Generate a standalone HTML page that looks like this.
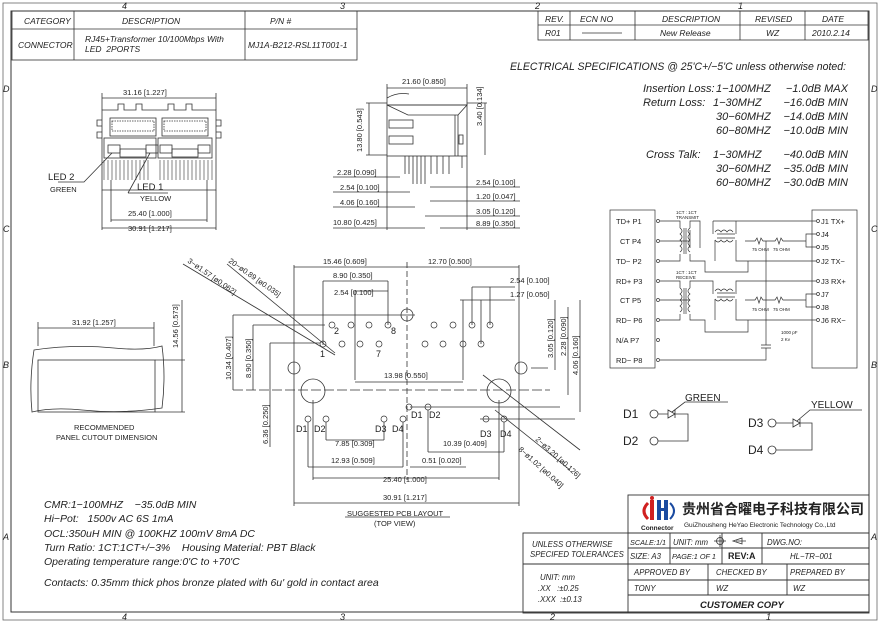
<!DOCTYPE html>
<html><head><meta charset="utf-8"><style>
html,body{margin:0;padding:0;background:#fff;}
svg{display:block;}
text{font-family:"Liberation Sans","Noto Sans CJK SC",sans-serif;fill:#222;white-space:pre;}
.i{font-style:italic;}
</style></head><body>
<svg width="880" height="623" viewBox="0 0 880 623" xmlns="http://www.w3.org/2000/svg" xml:space="preserve" stroke="#333" fill="none" stroke-width="0.8">
<rect x="3" y="3" width="874" height="617" stroke="#666"/>
<rect x="11" y="11" width="858" height="601" stroke-width="1"/>
<g stroke="none" font-size="9" fill="#222">
<text x="122" y="9" class="i">4</text><text x="340" y="9" class="i">3</text><text x="535" y="9" class="i">2</text><text x="738" y="9" class="i">1</text>
<text x="122" y="620" class="i">4</text><text x="340" y="620" class="i">3</text><text x="550" y="620" class="i">2</text><text x="766" y="620" class="i">1</text>
<text x="3" y="92" class="i">D</text><text x="3" y="232" class="i">C</text><text x="3" y="368" class="i">B</text><text x="3" y="540" class="i">A</text>
<text x="871" y="92" class="i">D</text><text x="871" y="232" class="i">C</text><text x="871" y="368" class="i">B</text><text x="871" y="540" class="i">A</text>
</g>
<rect x="12" y="11" width="345" height="49"/>
<line x1="12" y1="29" x2="357" y2="29"/><line x1="74" y1="11" x2="74" y2="60"/><line x1="245" y1="11" x2="245" y2="60"/>
<g stroke="none" font-size="8.5">
<text x="24" y="24" class="i">CATEGORY</text><text x="122" y="24" class="i">DESCRIPTION</text><text x="270" y="24" class="i">P/N #</text>
<text x="18" y="48" class="i">CONNECTOR</text><text x="85" y="42" class="i">RJ45+Transformer 10/100Mbps With</text><text x="85" y="52" class="i">LED  2PORTS</text>
<text x="248" y="48" class="i">MJ1A-B212-RSL11T001-1</text>
</g>
<rect x="538" y="11" width="330" height="29"/>
<line x1="538" y1="25" x2="868" y2="25"/>
<line x1="570" y1="11" x2="570" y2="40"/><line x1="635" y1="11" x2="635" y2="40"/><line x1="740" y1="11" x2="740" y2="40"/><line x1="805" y1="11" x2="805" y2="40"/>
<g stroke="none" font-size="8.5">
<text x="545" y="22" class="i">REV.</text><text x="580" y="22" class="i">ECN NO</text><text x="662" y="22" class="i">DESCRIPTION</text><text x="755" y="22" class="i">REVISED</text><text x="822" y="22" class="i">DATE</text>
<text x="545" y="36" class="i">R01</text><text x="660" y="36" class="i">New Release</text><text x="766" y="36" class="i">WZ</text><text x="812" y="36" class="i">2010.2.14</text>
</g>
<line x1="582" y1="33" x2="622" y2="33"/>
<g stroke="none" font-size="11">
<text x="510" y="70" class="i" textLength="336" lengthAdjust="spacingAndGlyphs">ELECTRICAL SPECIFICATIONS @ 25'C+/−5'C unless otherwise noted:</text>
<text x="643" y="92" class="i">Insertion Loss:</text><text x="716" y="92" class="i">1−100MHZ</text><text x="848" y="92" class="i" text-anchor="end">−1.0dB MAX</text>
<text x="643" y="106" class="i">Return Loss:</text><text x="713" y="106" class="i">1−30MHZ</text><text x="848" y="106" class="i" text-anchor="end">−16.0dB MIN</text>
<text x="716" y="120" class="i">30−60MHZ</text><text x="848" y="120" class="i" text-anchor="end">−14.0dB MIN</text>
<text x="716" y="134" class="i">60−80MHZ</text><text x="848" y="134" class="i" text-anchor="end">−10.0dB MIN</text>
<text x="646" y="158" class="i">Cross Talk:</text><text x="713" y="158" class="i">1−30MHZ</text><text x="848" y="158" class="i" text-anchor="end">−40.0dB MIN</text>
<text x="716" y="172" class="i">30−60MHZ</text><text x="848" y="172" class="i" text-anchor="end">−35.0dB MIN</text>
<text x="716" y="186" class="i">60−80MHZ</text><text x="848" y="186" class="i" text-anchor="end">−30.0dB MIN</text>
</g>
<g>
<line x1="102" y1="98" x2="216" y2="98"/><line x1="102" y1="93" x2="102" y2="110"/><line x1="216" y1="93" x2="216" y2="110"/>
<path d="M102 110 H118 V104 H124 V110 H136 V104 H142 V110 H168 V104 H174 V110 H186 V104 H192 V110 H216 V190 H102 Z"/>
<path d="M102 120 h-5 v6 h5 M102 132 h-5 v6 h5 M216 120 h5 v6 h-5 M216 132 h5 v6 h-5"/>
<rect x="110" y="118" width="46" height="18"/><rect x="162" y="118" width="46" height="18"/>
<path d="M112 121 h42 v10 h-42z" stroke-dasharray="1.5 1"/><path d="M164 121 h42 v10 h-42z" stroke-dasharray="1.5 1"/>
<rect x="108" y="145" width="12" height="8"/><rect x="146" y="145" width="12" height="8"/>
<rect x="160" y="145" width="12" height="8"/><rect x="198" y="145" width="12" height="8"/>
<rect x="120" y="149" width="26" height="8"/><rect x="172" y="149" width="26" height="8"/>
<rect x="104" y="138" width="52" height="20"/><rect x="158" y="138" width="54" height="20"/>
<path d="M104 160 V180 M108 160V180 M112 160V180 M116 160V180 M120 160V180 M124 160V180 M128 160V180 M132 160V180 M136 160V180 M140 160V180 M144 160V180 M148 160V180 M160 160V180 M164 160V180 M168 160V180 M172 160V180 M176 160V180 M180 160V180 M184 160V180 M188 160V180 M192 160V180 M196 160V180 M200 160V180 M204 160V180 M208 160V180 M212 160V180" stroke-width="0.6"/>
<line x1="102" y1="190" x2="102" y2="230"/><line x1="216" y1="190" x2="216" y2="230"/>
<line x1="111" y1="180" x2="111" y2="222"/><line x1="207" y1="180" x2="207" y2="222"/>
<line x1="111" y1="220" x2="207" y2="220"/><line x1="102" y1="228" x2="216" y2="228"/>
<path d="M58 182 H84 L112 153"/><path d="M128 193 H168 M128 193 L150 153"/>
</g>
<g stroke="none" font-size="7.5">
<text x="123" y="95">31.16 [1.227]</text>
<text x="128" y="216">25.40 [1.000]</text><text x="128" y="231">30.91 [1.217]</text>
<text x="48" y="180" font-size="9.5">LED 2</text><text x="50" y="192">GREEN</text>
<text x="137" y="190" font-size="9.5">LED 1</text><text x="140" y="201">YELLOW</text>
</g>
<g>
<line x1="387" y1="88" x2="467" y2="88"/><line x1="387" y1="84" x2="387" y2="105"/><line x1="467" y1="84" x2="467" y2="105"/>
<path d="M387 105 L467 105 L458 115 L408 115 Z"/>
<path d="M387 98 q10 -6 22 -4"/>
<rect x="387" y="105" width="80" height="51"/>
<line x1="455" y1="115" x2="455" y2="156"/><line x1="458" y1="115" x2="458" y2="156"/>
<rect x="389" y="120" width="24" height="8"/><rect x="389" y="136" width="24" height="8"/>
<rect x="459" y="135" width="4" height="9"/>
<line x1="366" y1="103" x2="387" y2="103"/><line x1="366" y1="155" x2="387" y2="155"/><line x1="369" y1="103" x2="369" y2="155"/>
<line x1="467" y1="103" x2="487" y2="103"/><line x1="485" y1="103" x2="485" y2="155"/>
<path d="M405 156 v18 M409 156 v18 M413 156 v28 M417 156 v28 M421 156 v28 M425 156 v28 M431 156 v18 M437 156 v18 M443 156 v18 M449 156 v18 M462 156 v12"/>
<line x1="333" y1="177" x2="400" y2="177"/><line x1="333" y1="192" x2="410" y2="192"/><line x1="333" y1="207" x2="415" y2="207"/><line x1="333" y1="228" x2="425" y2="228"/>
<line x1="387" y1="156" x2="387" y2="230"/>
<line x1="430" y1="187" x2="520" y2="187"/><line x1="430" y1="201" x2="520" y2="201"/><line x1="425" y1="216" x2="520" y2="216"/><line x1="467" y1="156" x2="467" y2="230"/><line x1="440" y1="228" x2="520" y2="228"/>
</g>
<g stroke="none" font-size="7.5">
<text x="402" y="84">21.60 [0.850]</text>
<text transform="translate(362 152) rotate(-90)">13.80 [0.543]</text>
<text transform="translate(482 126) rotate(-90)">3.40 [0.134]</text>
<text x="337" y="175">2.28 [0.090]</text><text x="340" y="190">2.54 [0.100]</text><text x="340" y="205">4.06 [0.160]</text><text x="333" y="225">10.80 [0.425]</text>
<text x="476" y="185">2.54 [0.100]</text><text x="476" y="199">1.20 [0.047]</text><text x="476" y="214">3.05 [0.120]</text><text x="476" y="226">8.89 [0.350]</text>
</g>
<g>
<line x1="38" y1="328" x2="154" y2="328"/><line x1="38" y1="322" x2="38" y2="346"/><line x1="154" y1="322" x2="154" y2="346"/>
<path d="M34 350 q40 -6 80 -2 q30 3 48 -2 q4 30 0 62 q-40 6 -80 2 q-30 -3 -50 2 q-3 -30 2 -62z"/>
<rect x="38" y="360" width="117" height="52"/>
<line x1="155" y1="360" x2="185" y2="360"/><line x1="155" y1="412" x2="185" y2="412"/><line x1="182" y1="300" x2="182" y2="412"/>
</g>
<g stroke="none" font-size="7.5">
<text x="72" y="325">31.92 [1.257]</text>
<text transform="translate(178 348) rotate(-90)">14.56 [0.573]</text>
<text x="74" y="430">RECOMMENDED</text><text x="56" y="440">PANEL CUTOUT DIMENSION</text>
</g>
<g>
<line x1="294" y1="265" x2="294" y2="506"/><line x1="519" y1="265" x2="519" y2="506"/>
<line x1="294" y1="267" x2="519" y2="267"/><line x1="407" y1="262" x2="407" y2="480" stroke-dasharray="6 3"/>
<line x1="323" y1="281" x2="388" y2="281"/><line x1="355" y1="291" x2="388" y2="291"/>
<line x1="323" y1="281" x2="323" y2="345"/><line x1="388" y1="281" x2="388" y2="325"/><line x1="355" y1="291" x2="355" y2="380"/>
<line x1="472" y1="287" x2="515" y2="287"/><line x1="460" y1="300" x2="515" y2="300"/>
<line x1="472" y1="287" x2="472" y2="325"/><line x1="490" y1="287" x2="490" y2="325"/><line x1="481" y1="300" x2="481" y2="344"/><line x1="463" y1="300" x2="463" y2="380"/>
<line x1="355" y1="382" x2="463" y2="382"/>
<line x1="233" y1="315" x2="415" y2="315"/><line x1="253" y1="325" x2="325" y2="325"/><line x1="270" y1="343" x2="320" y2="343"/>
<line x1="233" y1="315" x2="233" y2="390"/><line x1="253" y1="325" x2="253" y2="390"/><line x1="270" y1="343" x2="270" y2="447"/>
<line x1="233" y1="390" x2="550" y2="390" stroke-dasharray="10 3"/>
<line x1="531" y1="368" x2="548" y2="368"/><line x1="555" y1="300" x2="555" y2="370"/><line x1="568" y1="307" x2="568" y2="395"/><line x1="580" y1="300" x2="580" y2="412"/>
<line x1="410" y1="407" x2="560" y2="407"/><line x1="480" y1="419" x2="575" y2="419"/>
<circle cx="313" cy="391" r="12"/><circle cx="499" cy="391" r="12"/>
<circle cx="407" cy="315" r="6"/><circle cx="294" cy="368" r="6"/><circle cx="521" cy="368" r="6"/>
<g stroke-width="0.7">
<circle cx="332" cy="325" r="3"/><circle cx="351" cy="325" r="3"/><circle cx="369" cy="325" r="3"/><circle cx="388" cy="325" r="3"/>
<circle cx="434" cy="325" r="3"/><circle cx="453" cy="325" r="3"/><circle cx="472" cy="325" r="3"/><circle cx="490" cy="325" r="3"/>
<circle cx="323" cy="344" r="3"/><circle cx="342" cy="344" r="3"/><circle cx="360" cy="344" r="3"/><circle cx="379" cy="344" r="3"/>
<circle cx="425" cy="344" r="3"/><circle cx="443" cy="344" r="3"/><circle cx="463" cy="344" r="3"/><circle cx="481" cy="344" r="3"/>
<circle cx="308" cy="419" r="3"/><circle cx="326" cy="419" r="3"/><circle cx="384" cy="419" r="3"/><circle cx="403" cy="419" r="3"/>
<circle cx="486" cy="419" r="3"/><circle cx="504" cy="419" r="3"/><circle cx="409" cy="407" r="3"/><circle cx="428" cy="407" r="3"/>
</g>
<line x1="308" y1="422" x2="308" y2="467"/><line x1="326" y1="422" x2="326" y2="440"/><line x1="384" y1="422" x2="384" y2="440"/><line x1="403" y1="422" x2="403" y2="467"/>
<line x1="428" y1="410" x2="428" y2="452"/><line x1="504" y1="422" x2="504" y2="452"/>
<line x1="326" y1="440" x2="384" y2="440"/><line x1="428" y1="452" x2="504" y2="452"/>
<line x1="308" y1="467" x2="403" y2="467"/><line x1="410" y1="467" x2="466" y2="467"/>
<line x1="313" y1="400" x2="313" y2="480"/><line x1="499" y1="400" x2="499" y2="480"/>
<line x1="313" y1="478" x2="499" y2="478"/><line x1="294" y1="503" x2="519" y2="503"/>
<line x1="183" y1="264" x2="335" y2="355"/><line x1="227" y1="264" x2="335" y2="353"/>
<line x1="483" y1="375" x2="580" y2="450"/><line x1="495" y1="410" x2="570" y2="470"/>
<line x1="345" y1="517" x2="450" y2="517"/>
</g>
<g stroke="none" font-size="7.5">
<text x="323" y="264">15.46 [0.609]</text><text x="428" y="264">12.70 [0.500]</text>
<text x="333" y="278">8.90 [0.350]</text><text x="334" y="295">2.54 [0.100]</text>
<text x="510" y="283">2.54 [0.100]</text><text x="510" y="297">1.27 [0.050]</text>
<text x="384" y="378">13.98 [0.550]</text>
<text transform="translate(231 380) rotate(-90)">10.34 [0.407]</text>
<text transform="translate(251 378) rotate(-90)">8.90 [0.350]</text>
<text transform="translate(268 444) rotate(-90)">6.36 [0.250]</text>
<text transform="translate(553 358) rotate(-90)">3.05 [0.120]</text>
<text transform="translate(566 356) rotate(-90)">2.28 [0.090]</text>
<text transform="translate(578 375) rotate(-90)">4.06 [0.160]</text>
<text x="335" y="446">7.85 [0.309]</text><text x="331" y="463">12.93 [0.509]</text>
<text x="443" y="446">10.39 [0.409]</text><text x="422" y="463">0.51 [0.020]</text>
<text x="383" y="482">25.40 [1.000]</text><text x="383" y="500">30.91 [1.217]</text>
<text x="347" y="516">SUGGESTED PCB LAYOUT</text><text x="374" y="526">(TOP VIEW)</text>
<text transform="translate(187 262) rotate(35)">3−ø1.57 [ø0.062]</text>
<text transform="translate(228 262) rotate(35)">20−ø0.89 [ø0.035]</text>
<text transform="translate(535 440) rotate(42)">2−ø3.20 [ø0.126]</text>
<text transform="translate(518 450) rotate(42)">8−ø1.02 [ø0.040]</text>
<g font-size="9"><text x="320" y="357">1</text><text x="334" y="334">2</text><text x="376" y="357">7</text><text x="391" y="334">8</text>
<text x="296" y="432">D1</text><text x="314" y="432">D2</text><text x="375" y="432">D3</text><text x="392" y="432">D4</text>
<text x="411" y="418">D1</text><text x="429" y="418">D2</text><text x="480" y="437">D3</text><text x="500" y="437">D4</text></g>
</g>
<g stroke-width="0.7">
<rect x="610" y="210" width="45" height="158"/><rect x="812" y="210" width="45" height="158"/>
<g>
<circle cx="658" cy="221" r="1.5"/><circle cx="658" cy="241" r="1.5"/><circle cx="658" cy="261" r="1.5"/><circle cx="658" cy="281" r="1.5"/>
<circle cx="658" cy="300" r="1.5"/><circle cx="658" cy="320" r="1.5"/><circle cx="658" cy="340" r="1.5"/><circle cx="658" cy="360" r="1.5"/>
<circle cx="818" cy="221" r="1.5"/><circle cx="818" cy="234" r="1.5"/><circle cx="818" cy="247" r="1.5"/><circle cx="818" cy="261" r="1.5"/>
<circle cx="818" cy="281" r="1.5"/><circle cx="818" cy="294" r="1.5"/><circle cx="818" cy="307" r="1.5"/><circle cx="818" cy="320" r="1.5"/>
</g>
<path d="M660 221 H680 V228 M660 241 H690 M660 261 H680 V254 M690 230 V248 M680 228 q4 3 0 6 q4 3 0 6 q4 3 0 6 q4 3 0 6 M684 228 V254 M686 228 V254 M690 228 q-4 3 0 6 q-4 3 0 6 q-4 3 0 6 q-4 3 0 6 M690 228 V221 H700 V240 M690 254 V261 H705 V272 H748 V261"/>
<path d="M700 240 V248 M717 234 H735 M717 238 H735 M715 232 q3 -4 6 0 q3 -4 6 0 q3 -4 6 0 M715 240 q3 4 6 0 q3 4 6 0 q3 4 6 0 M713 221 H816 M713 221 V234 M736 234 V221 M715 240 V261 M736 240 V261 H816 M745 241 H755 l2 -3 l2 6 l2 -6 l2 3 H775 l2 -3 l2 6 l2 -6 l2 3 H806 V234 H816 M806 241 V247 H816 M766 241 V345"/>
<path d="M660 281 H680 V288 M660 300 H690 M660 320 H680 V314 M680 288 q4 3 0 6 q4 3 0 6 q4 3 0 6 q4 3 0 6 M684 288 V314 M686 288 V314 M690 288 q-4 3 0 6 q-4 3 0 6 q-4 3 0 6 q-4 3 0 6 M690 288 V281 H713 V294 M690 314 V320 H705 V332 H748 V320"/>
<path d="M717 293 H735 M717 297 H735 M715 291 q3 -4 6 0 q3 -4 6 0 q3 -4 6 0 M715 299 q3 4 6 0 q3 4 6 0 q3 4 6 0 M736 294 V281 H816 M715 299 V320 M736 299 V320 H816 M745 300 H755 l2 -3 l2 6 l2 -6 l2 3 H775 l2 -3 l2 6 l2 -6 l2 3 H806 V294 H816 M806 300 V307 H816"/>
<path d="M761 345 H771 M761 348 H771 M766 348 V360 H660"/>
</g>
<g stroke="none" font-size="7.5">
<text x="616" y="224">TD+ P1</text><text x="620" y="244">CT P4</text><text x="616" y="264">TD− P2</text><text x="616" y="284">RD+ P3</text>
<text x="620" y="303">CT P5</text><text x="616" y="323">RD− P6</text><text x="616" y="343">N/A P7</text><text x="616" y="363">RD− P8</text>
<text x="821" y="224">J1 TX+</text><text x="821" y="237">J4</text><text x="821" y="250">J5</text><text x="821" y="264">J2 TX−</text>
<text x="821" y="284">J3 RX+</text><text x="821" y="297">J7</text><text x="821" y="310">J8</text><text x="821" y="323">J6 RX−</text>
<g font-size="4.5"><text x="676" y="214">1CT : 1CT</text><text x="676" y="219">TRANSMIT</text><text x="676" y="274">1CT : 1CT</text><text x="676" y="279">RECEIVE</text>
<text x="752" y="251">75 OHM</text><text x="773" y="251">75 OHM</text><text x="752" y="311">75 OHM</text><text x="773" y="311">75 OHM</text>
<text x="781" y="334">1000 pF</text><text x="781" y="341">2 Kv</text></g>
</g>
<g stroke-width="0.8">
<circle cx="654" cy="414" r="4"/><circle cx="654" cy="441" r="4"/>
<path d="M658 414 H668 M668 410 V418 L675 414 Z M675 410 V418 M675 414 H688 V441 H658 M672 412 L685 402 H728"/>
<circle cx="772" cy="423" r="4"/><circle cx="772" cy="450" r="4"/>
<path d="M776 423 H793 M793 419 V427 L800 423 Z M800 419 V427 M800 423 H812 V450 H776 M797 421 L810 410 H862"/>
</g>
<g stroke="none" font-size="12"><text x="623" y="418">D1</text><text x="623" y="445">D2</text><text x="748" y="427">D3</text><text x="748" y="454">D4</text>
<text x="685" y="401" font-size="10">GREEN</text><text x="811" y="408" font-size="10">YELLOW</text></g>
<g stroke="none" font-size="10.5">
<text x="44" y="508" class="i">CMR:1−100MHZ    −35.0dB MIN</text>
<text x="44" y="522" class="i">Hi−Pot:   1500v AC 6S 1mA</text>
<text x="44" y="537" class="i">OCL:350uH MIN @ 100KHZ 100mV 8mA DC</text>
<text x="44" y="551" class="i">Turn Ratio: 1CT:1CT+/−3%    Housing Material: PBT Black</text>
<text x="44" y="565" class="i">Operating temperature range:0'C to +70'C</text>
<text x="44" y="586" class="i">Contacts: 0.35mm thick phos bronze plated with 6u' gold in contact area</text>
</g>
<g stroke-width="0.9">
<rect x="628" y="495" width="241" height="38"/>
<rect x="523" y="533" width="346" height="80"/>
<line x1="523" y1="564" x2="869" y2="564"/><line x1="628" y1="533" x2="628" y2="613"/>
<line x1="628" y1="548" x2="869" y2="548"/><line x1="628" y1="580" x2="869" y2="580"/><line x1="628" y1="595" x2="869" y2="595"/>
<line x1="670" y1="533" x2="670" y2="564"/><line x1="722" y1="533" x2="722" y2="564"/><line x1="762" y1="533" x2="762" y2="564"/>
<line x1="708" y1="564" x2="708" y2="595"/><line x1="787" y1="564" x2="787" y2="595"/>
</g>
<g>
<path d="M648 503 q-8 8 0 16" stroke="#d02020" stroke-width="3"/>
<rect x="650" y="500" width="4" height="20" fill="#d02020" stroke="none"/>
<rect x="657" y="500" width="4" height="20" fill="#1a4aa0" stroke="none"/><rect x="664" y="500" width="4" height="20" fill="#1a4aa0" stroke="none"/>
<rect x="657" y="508" width="11" height="3" fill="#1a4aa0" stroke="none"/>
<path d="M670 503 q8 8 0 16" stroke="#1a4aa0" stroke-width="2"/>
<circle cx="652" cy="498" r="2" fill="#d02020" stroke="none"/>
<circle cx="720" cy="541" r="3.5"/><line x1="714" y1="541" x2="726" y2="541"/><line x1="720" y1="535" x2="720" y2="547"/>
<path d="M742 538 L733 541 L742 544 Z M736 541 h10"/>
</g>
<g stroke="none">
<text x="641" y="530" font-size="6.5" font-weight="bold">Connector</text>
<text x="682" y="514" font-size="14" font-weight="bold" fill="#111">贵州省合曜电子科技有限公司</text>
<text x="684" y="527" font-size="6.5">GuiZhousheng HeYao Electronic Technology Co.,Ltd</text>
<g font-size="7.8">
<text x="532" y="547" class="i">UNLESS OTHERWISE</text><text x="530" y="557" class="i">SPECIFED TOLERANCES</text>
<text x="540" y="580" class="i">UNIT: mm</text><text x="538" y="591" class="i">.XX   :±0.25</text><text x="538" y="602" class="i">.XXX  :±0.13</text>
<text x="630" y="545" class="i" font-size="7.3">SCALE:1/1</text><text x="673" y="545" class="i">UNIT: mm</text><text x="767" y="545" class="i">DWG.NO:</text>
<text x="630" y="559" class="i">SIZE: A3</text><text x="672" y="559" class="i" font-size="7.3">PAGE:1 OF 1</text><text x="790" y="559" class="i">HL−TR−001</text>
<text x="634" y="575" class="i">APPROVED BY</text><text x="716" y="575" class="i">CHECKED BY</text><text x="790" y="575" class="i">PREPARED BY</text>
<text x="634" y="591" class="i">TONY</text><text x="716" y="591" class="i">WZ</text><text x="793" y="591" class="i">WZ</text>
</g>
<text x="728" y="559" font-size="9" font-weight="bold" font-family="Liberation Serif">REV:A</text>
<text x="700" y="608" font-size="9.5" font-weight="bold" font-style="italic" font-family="Liberation Serif">CUSTOMER COPY</text>
</g>
</svg>
</body></html>
